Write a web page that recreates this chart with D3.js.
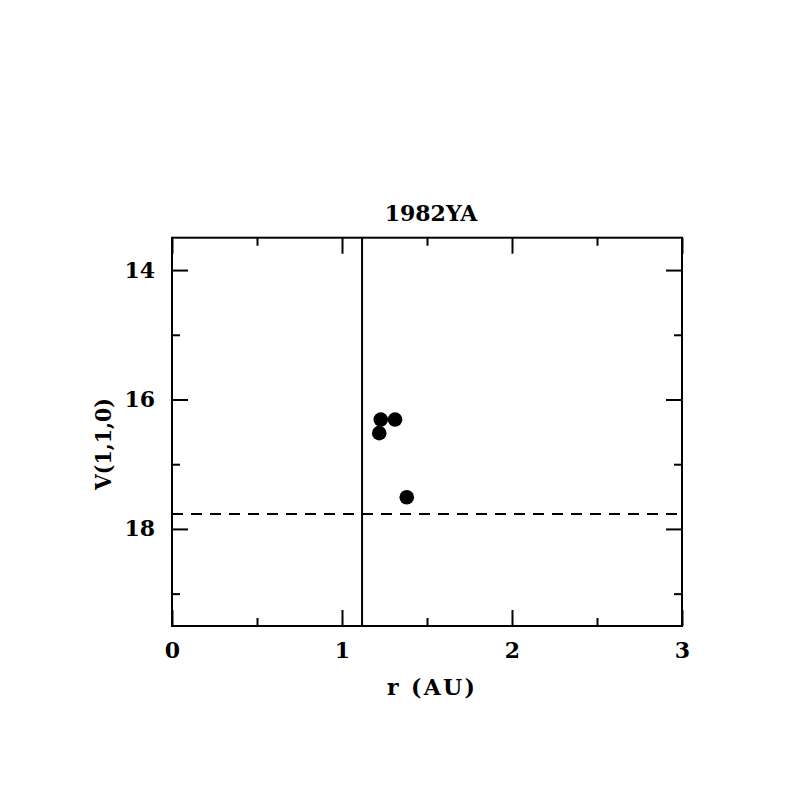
<!DOCTYPE html>
<html>
<head>
<meta charset="utf-8">
<script src="https://cdn.jsdelivr.net/npm/d3@7"></script>
<style>
  body { margin: 0; background: #fff; }
  svg text { font-family: "DejaVu Serif", "Liberation Serif", serif; font-weight: bold; fill: #000; }
</style>
</head>
<body>
<script>
// data
const title = "1982YA";
const rAU = [1.228, 1.312, 1.219, 1.381];
const vMag = [16.31, 16.31, 16.52, 17.51];
const rLimit = 1.118;      // solid vertical line
const vLimit = 17.77;      // dashed horizontal line
const xMajor = [0, 1, 2, 3];
const xMinor = [0.5, 1.5, 2.5];
const yMajor = [14, 16, 18];
const yMinor = [15, 17, 19];

const W = 797, H = 797;
const mLeft = 172, mRight = 682, mTop = 237.7, mBottom = 626;

const svg = d3.select("body").append("svg")
  .attr("width", W).attr("height", H);

const x = d3.scaleLinear().domain([0, 3]).range([mLeft, mRight]);
const y = d3.scaleLinear().domain([13.5, 19.5]).range([mTop, mBottom]);

/* ticks, inward on all four sides */
const major = 16, minor = 8;
function tickAxis(axisFn, scale, vals, size, pos, labels) {
  const g = svg.append("g")
    .attr("transform", pos)
    .call(axisFn(scale).tickValues(vals).tickSizeInner(-size).tickSizeOuter(0)
      .tickPadding(labels ? 14 : 0)
      .tickFormat(labels ? d3.format("d") : ""));
  g.select(".domain").remove();
  g.selectAll(".tick line").attr("stroke", "#000").attr("stroke-width", 2);
  g.selectAll(".tick text").attr("font-size", 22).attr("fill", "#000")
    .attr("font-family", "DejaVu Serif").attr("font-weight", "bold");
  return g;
}
const gxb = tickAxis(d3.axisBottom, x, xMajor, major, `translate(0,${mBottom})`, true);
gxb.selectAll(".tick text").attr("dy", "0.71em").attr("y", 16);
tickAxis(d3.axisBottom, x, xMinor, minor, `translate(0,${mBottom})`, false);
tickAxis(d3.axisTop, x, xMajor, major, `translate(0,${mTop})`, false);
tickAxis(d3.axisTop, x, xMinor, minor, `translate(0,${mTop})`, false);
const gyl = tickAxis(d3.axisLeft, y, yMajor, major, `translate(${mLeft},0)`, true);
gyl.selectAll(".tick text").attr("x", -17);
tickAxis(d3.axisLeft, y, yMinor, minor, `translate(${mLeft},0)`, false);
tickAxis(d3.axisRight, y, yMajor, major, `translate(${mRight},0)`, false);
tickAxis(d3.axisRight, y, yMinor, minor, `translate(${mRight},0)`, false);

// frame
svg.append("rect")
  .attr("x", mLeft).attr("y", mTop)
  .attr("width", mRight - mLeft).attr("height", mBottom - mTop)
  .attr("fill", "none").attr("stroke", "#000").attr("stroke-width", 2);

// limit lines
svg.append("line")
  .attr("x1", x(rLimit)).attr("x2", x(rLimit))
  .attr("y1", mTop).attr("y2", mBottom)
  .attr("stroke", "#000").attr("stroke-width", 2);
svg.append("line")
  .attr("x1", mLeft).attr("x2", mRight)
  .attr("y1", y(vLimit)).attr("y2", y(vLimit))
  .attr("stroke", "#000").attr("stroke-width", 2)
  .attr("stroke-dasharray", "11,8");

// points
svg.append("g").selectAll("circle")
  .data(rAU.map((r, i) => [r, vMag[i]]))
  .join("circle")
  .attr("cx", d => x(d[0]))
  .attr("cy", d => y(d[1]))
  .attr("r", 7.3)
  .attr("fill", "#000");

// labels
svg.append("text")
  .attr("x", (mLeft + mRight) / 2 + 4).attr("y", 221)
  .attr("text-anchor", "middle").attr("font-size", 22)
  .text(title);
svg.append("text")
  .attr("x", (mLeft + mRight) / 2 + 4).attr("y", 695)
  .attr("text-anchor", "middle").attr("font-size", 22)
  .attr("textLength", 88).attr("lengthAdjust", "spacing")
  .text("r (AU)");
svg.append("text")
  .attr("transform", "translate(111,444) rotate(-90)")
  .attr("text-anchor", "middle").attr("font-size", 22)
  .attr("textLength", 92).attr("lengthAdjust", "spacingAndGlyphs")
  .text("V(1,1,0)");
</script>
</body>
</html>
